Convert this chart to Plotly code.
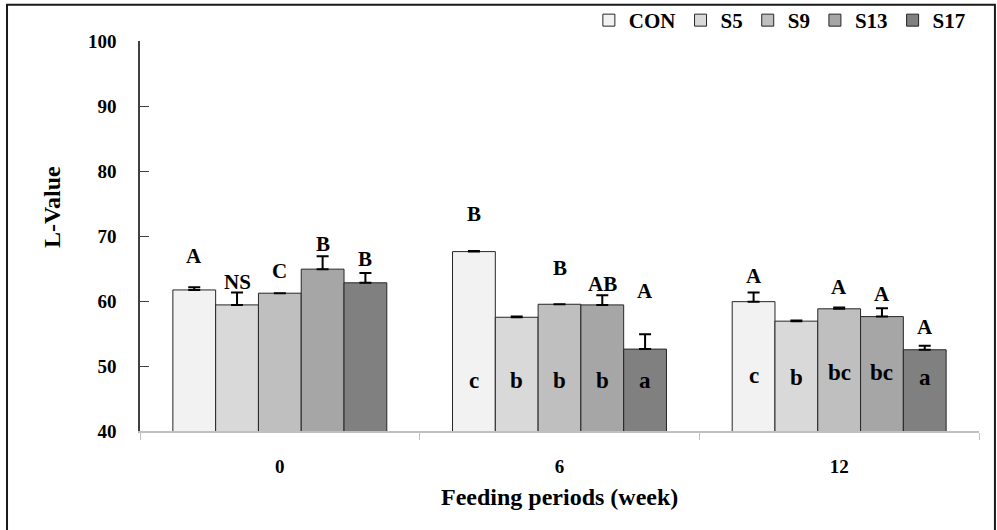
import plotly.graph_objects as go

# ---------------- data ----------------
periods = ["0", "6", "12"]
series = ["CON", "S5", "S9", "S13", "S17"]
colors = ["#f2f2f2", "#d9d9d9", "#bfbfbf", "#a6a6a6", "#808080"]

con = [61.7, 67.6, 59.9]
s5 = [59.4, 57.5, 56.9]
s9 = [61.2, 59.5, 58.8]
s13 = [64.9, 59.4, 57.6]
s17 = [62.8, 52.6, 52.5]

con_err = [0.4, 0.1, 1.4]
s5_err = [1.9, 0.1, 0.1]
s9_err = [0.0, 0.0, 0.2]
s13_err = [2.0, 1.5, 1.3]
s17_err = [1.5, 2.3, 0.6]

# significance letters (upper: between periods, lower: between treatments)
con_upper = ["A", "B", "A"]
s5_upper = ["NS", "", ""]
s9_upper = ["C", "B", "A"]
s13_upper = ["B", "AB", "A"]
s17_upper = ["B", "A", "A"]
con_upper_y = [66.95, 73.4, 63.9]
s5_upper_y = [62.85, None, None]
s9_upper_y = [64.65, 65.15, 62.1]
s13_upper_y = [68.8, 62.65, 61.1]
s17_upper_y = [66.5, 61.6, 55.95]

con_lower = ["", "c", "c"]
s5_lower = ["", "b", "b"]
s9_lower = ["", "b", "bc"]
s13_lower = ["", "b", "bc"]
s17_lower = ["", "a", "a"]
con_lower_y = [None, 47.8, 48.5]
s5_lower_y = [None, 47.8, 48.3]
s9_lower_y = [None, 47.8, 49.0]
s13_lower_y = [None, 47.8, 49.0]
s17_lower_y = [None, 47.8, 48.3]

y_ticks = [40, 50, 60, 70, 80, 90, 100]

values = [con, s5, s9, s13, s17]
errors = [con_err, s5_err, s9_err, s13_err, s17_err]
uppers = [con_upper, s5_upper, s9_upper, s13_upper, s17_upper]
uppers_y = [con_upper_y, s5_upper_y, s9_upper_y, s13_upper_y, s17_upper_y]
lowers = [con_lower, s5_lower, s9_lower, s13_lower, s17_lower]
lowers_y = [con_lower_y, s5_lower_y, s9_lower_y, s13_lower_y, s17_lower_y]

FONT = "Liberation Serif, Times New Roman, Tinos, DejaVu Serif, serif"
bargap = 0.235
bar_w = (1 - bargap) / len(series)

fig = go.Figure()
for name, vals, err, col in zip(series, values, errors, colors):
    fig.add_trace(go.Bar(
        name=name, x=periods, y=vals,
        marker=dict(color=col, line=dict(color="#262626", width=1)),
        error_y=dict(type="data", array=err, arrayminus=[0] * len(err),
                     symmetric=False, color="#000000", thickness=2, width=6),
    ))

annotations = []
for j in range(len(series)):
    off = (j - (len(series) - 1) / 2) * bar_w
    for i in range(len(periods)):
        if uppers[j][i]:
            annotations.append(dict(x=i + off, y=uppers_y[j][i], xref="x", yref="y",
                                    text=uppers[j][i], showarrow=False,
                                    xanchor="center", yanchor="middle",
                                    font=dict(family=FONT, size=21, color="#000", weight="bold")))
        if lowers[j][i]:
            annotations.append(dict(x=i + off, y=lowers_y[j][i], xref="x", yref="y",
                                    text=lowers[j][i], showarrow=False,
                                    xanchor="center", yanchor="middle",
                                    font=dict(family=FONT, size=23, color="#000", weight="bold")))

annotations.append(dict(x=0.5, y=-0.169, xref="paper", yref="paper",
                        text="Feeding periods (week)", showarrow=False,
                        xanchor="center", yanchor="middle",
                        font=dict(family=FONT, size=24, color="#000", weight="bold")))
annotations.append(dict(x=-0.105, y=0.574, xref="paper", yref="paper",
                        text="L-Value", textangle=-90, showarrow=False,
                        xanchor="center", yanchor="middle",
                        font=dict(family=FONT, size=24, color="#000", weight="bold")))

fig.update_layout(
    width=997, height=530,
    margin=dict(l=140, r=18, t=39, b=99),
    paper_bgcolor="white", plot_bgcolor="white",
    barmode="group", bargap=bargap, bargroupgap=0,
    showlegend=True,
    legend=dict(orientation="h", x=0.535, xanchor="left",
                yref="container", y=1.0, yanchor="top",
                font=dict(family=FONT, size=21, color="#000", weight="bold"),
                bgcolor="rgba(0,0,0,0)", traceorder="normal"),
    annotations=annotations,
    shapes=[dict(type="rect", xref="paper", yref="paper",
                 x0=-0.1585, x1=1.019, y0=-0.3, y1=1.0928,
                 line=dict(color="#1a1a1a", width=2), fillcolor="rgba(0,0,0,0)")],
    xaxis=dict(type="category", categoryorder="array", categoryarray=periods,
               showline=True, linecolor="#c0c0c0", linewidth=2,
               ticks="outside", tickson="boundaries", ticklen=7, tickcolor="#c0c0c0",
               tickwidth=1, ticklabelstandoff=17, automargin=False,
               tickfont=dict(family=FONT, size=19, color="#000", weight="bold"),
               showgrid=False, zeroline=False),
    yaxis=dict(range=[40, 100], tickvals=y_ticks, ticktext=[str(v) for v in y_ticks],
               showline=True, linecolor="#404040", linewidth=1.5,
               ticks="inside", ticklen=9, tickcolor="#404040", tickwidth=1,
               ticklabelstandoff=18, automargin=False,
               tickfont=dict(family=FONT, size=19, color="#000", weight="bold"),
               showgrid=False, zeroline=False),
)

fig.write_html("out.html", config={"displayModeBar": False},
               post_script="document.body.style.margin='0';")
